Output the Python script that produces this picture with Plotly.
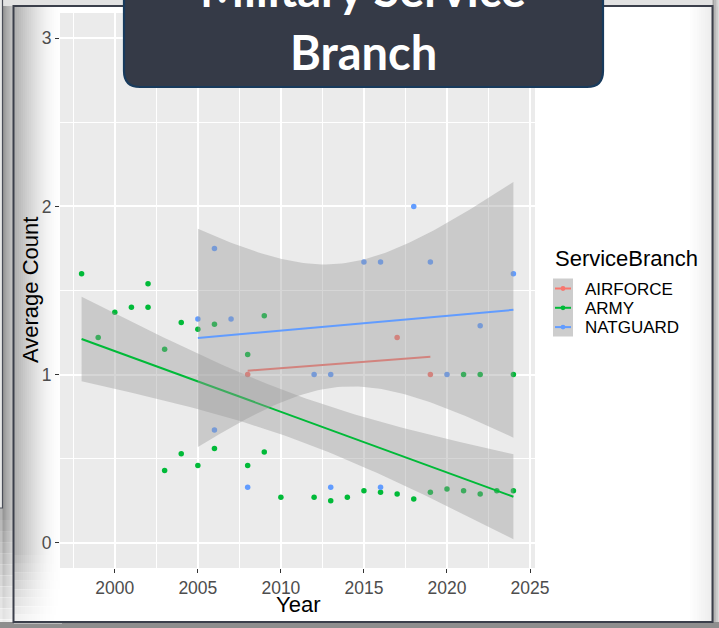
import math
import numpy as np
import plotly.graph_objects as go

W, H = 719, 628
FONT = "Liberation Sans, Arial, sans-serif"

# ---- data -------------------------------------------------------------
branches = ["AIRFORCE", "ARMY", "NATGUARD"]
branch_colors = ["#F8766D", "#00BA38", "#619CFF"]

airforce_year = [2008, 2017, 2019]
airforce_count = [1.0, 1.22, 1.0]

army_year = [1998, 1999, 2000, 2001, 2002, 2002, 2003, 2003, 2004, 2004,
             2005, 2005, 2006, 2006, 2008, 2008, 2009, 2009, 2010, 2012,
             2013, 2014, 2015, 2016, 2017, 2018, 2019, 2020, 2021, 2021,
             2022, 2022, 2023, 2024, 2024]
army_count = [1.60, 1.22, 1.37, 1.40, 1.40, 1.54, 1.15, 0.43, 1.31, 0.53,
              1.27, 0.46, 1.30, 0.56, 1.12, 0.46, 1.35, 0.54, 0.27, 0.27,
              0.25, 0.27, 0.31, 0.30, 0.29, 0.26, 0.30, 0.32, 0.31, 1.0,
              0.29, 1.0, 0.31, 0.31, 1.0]

natguard_year = [2005, 2006, 2006, 2007, 2008, 2009, 2012, 2013, 2013, 2015,
                 2016, 2016, 2018, 2019, 2020, 2022, 2024]
natguard_count = [1.33, 1.75, 0.67, 1.33, 0.33, 3.0, 1.0, 1.0, 0.33, 1.67,
                  1.67, 0.33, 2.0, 1.67, 1.0, 1.29, 1.6]

x_ticks = [2000, 2005, 2010, 2015, 2020, 2025]
y_ticks = [0, 1, 2, 3]
y_limits = (0.0, 3.0)

series = {
    "AIRFORCE": (airforce_year, airforce_count),
    "ARMY": (army_year, army_count),
    "NATGUARD": (natguard_year, natguard_count),
}


# ---- linear fit with 95% confidence band (like geom_smooth(method="lm")) --
def t_pdf(x, df):
    c = math.exp(math.lgamma((df + 1) / 2) - math.lgamma(df / 2)) / math.sqrt(df * math.pi)
    return c * np.power(1 + x * x / df, -(df + 1) / 2)


def t_cdf(x, df):
    g = np.linspace(0.0, x, 4001)
    return 0.5 + np.trapezoid(t_pdf(g, df), g)


def t_ppf(p, df):
    lo, hi = 0.0, 60.0
    for _ in range(70):
        mid = (lo + hi) / 2
        if t_cdf(mid, df) < p:
            lo = mid
        else:
            hi = mid
    return (lo + hi) / 2


def lm_band(xs, ys, n=80):
    x = np.asarray(xs, float)
    y = np.asarray(ys, float)
    m = len(x)
    xm, ym = x.mean(), y.mean()
    sxx = ((x - xm) ** 2).sum()
    b = ((x - xm) * (y - ym)).sum() / sxx
    a = ym - b * xm
    grid = np.linspace(x.min(), x.max(), n)
    fit = a + b * grid
    s = math.sqrt(((y - (a + b * x)) ** 2).sum() / (m - 2))
    se = s * np.sqrt(1 / m + (grid - xm) ** 2 / sxx)
    t = t_ppf(0.975, m - 2)
    return grid, fit, fit - t * se, fit + t * se


fig = go.Figure()

# points first, smoothers drawn on top of them
for name, col in zip(branches, branch_colors):
    xs, ys = series[name]
    fig.add_trace(go.Scatter(x=xs, y=ys, mode="markers", name=name,
                             marker=dict(size=5.5, color=col, line=dict(width=0)),
                             showlegend=False))

for name, col in zip(branches, branch_colors):
    xs, ys = series[name]
    grid, fit, lo, hi = lm_band(xs, ys)
    keep = (lo >= y_limits[0]) & (hi <= y_limits[1])
    if keep.any():
        gx = grid[keep]
        fig.add_trace(go.Scatter(
            x=np.concatenate([gx, gx[::-1]]),
            y=np.concatenate([hi[keep], lo[keep][::-1]]),
            mode="lines", fill="toself", fillcolor="rgba(153,153,153,0.4)",
            line=dict(width=0), hoverinfo="skip", showlegend=False))
    fig.add_trace(go.Scatter(x=grid, y=fit, mode="lines", name=name,
                             line=dict(color=col, width=2), showlegend=False))


# ---- page decoration (pixel helpers) ------------------------------------
def pxx(x):
    return x / W


def pxy(y):
    return 1 - y / H


def rect(x0, y0, x1, y1, fill, line=None, lw=0, layer="below", opacity=1):
    return dict(type="rect", xref="paper", yref="paper",
                x0=pxx(x0), x1=pxx(x1), y0=pxy(y1), y1=pxy(y0),
                fillcolor=fill, opacity=opacity,
                line=dict(width=lw, color=line or "rgba(0,0,0,0)"), layer=layer)


def grey(v):
    v = int(round(v))
    return f"rgb({v},{v},{v})"


PANEL = (60, 13, 535, 568)

shapes = []
shapes.append(rect(0, 0, W, 6.5, "#e2e2e2"))
# left outer shading
steps = 9
for i in range(steps):
    x0 = 2.5 + i * 11 / steps
    shapes.append(rect(x0, 6, x0 + 11 / steps + 0.3, H, grey(150 + 50 * i / (steps - 1))))
shapes.append(rect(-4, -4, 2.5, 508, "#e8e8e8", line="#4b4e58", lw=1.2))
for i in range(10):
    y0 = 520 + i * 11
    shapes.append(rect(-1, y0, 13.5, y0 + 11.5, "white", opacity=0.08 * (i + 1)))
shapes.append(rect(0, 622, W, H, "#8e8e8e"))
for i in range(4):
    x0 = 712.5 + i * 1.7
    shapes.append(rect(x0, 0, x0 + 1.9, 622, grey(165 + 18 * i)))
# main white frame
shapes.append(rect(13.5, 6, 712.5, 622, "white"))
# soft shadow along the inner left edge
n_sh = 23
for i in range(n_sh):
    x0 = 14 + i * 2
    a = 0.30 * (1 - i / n_sh) ** 1.6
    shapes.append(rect(x0, 7, x0 + 2.1, 621, "black", opacity=a))
for i in range(8):
    y0 = 555 + i * 8.5
    shapes.append(rect(14, y0, 62, y0 + 9, "white", opacity=0.1 * (i + 1)))
for i in range(10):
    x0 = 690 + i * 2.2
    shapes.append(rect(x0, 7, x0 + 2.3, 621, "black", opacity=0.007 * (i + 1)))
shapes.append(rect(13.5, 6, 712.5, 622, "rgba(0,0,0,0)", line="#3b3f4b", lw=2))
# grey plotting panel (gridlines are drawn over it)
shapes.append(rect(*PANEL, "#EBEBEB"))

# title banner with rounded bottom corners
bx0, bx1, by0, by1, r = 124, 603, -30, 87, 16
path = (f"M {pxx(bx0)},{pxy(by0)} L {pxx(bx1)},{pxy(by0)} "
        f"L {pxx(bx1)},{pxy(by1 - r)} Q {pxx(bx1)},{pxy(by1)} {pxx(bx1 - r)},{pxy(by1)} "
        f"L {pxx(bx0 + r)},{pxy(by1)} Q {pxx(bx0)},{pxy(by1)} {pxx(bx0)},{pxy(by1 - r)} Z")
shapes.append(dict(type="path", xref="paper", yref="paper", path=path,
                   fillcolor="#353a47", line=dict(color="#183a5c", width=2.2),
                   layer="above"))

# legend keys
shapes.append(rect(553, 278.5, 573, 336.5, "#cdcdcd", layer="above"))
annotations = []
for i, (name, col) in enumerate(zip(branches, branch_colors)):
    yc = 288.5 + 19.3 * i
    shapes.append(dict(type="line", xref="paper", yref="paper",
                       x0=pxx(555), x1=pxx(571), y0=pxy(yc), y1=pxy(yc),
                       line=dict(color=col, width=2), layer="above"))
    shapes.append(dict(type="circle", xref="paper", yref="paper",
                       x0=pxx(560.6), x1=pxx(565.4), y0=pxy(yc + 2.4), y1=pxy(yc - 2.4),
                       fillcolor=col, line=dict(width=0), layer="above"))
    annotations.append(dict(text=name, x=pxx(583), y=pxy(yc + 0.6), xref="paper", yref="paper",
                            xanchor="left", yanchor="middle", showarrow=False,
                            font=dict(family=FONT, size=17, color="black")))

annotations.append(dict(text="ServiceBranch", x=pxx(552.5), y=pxy(258), xref="paper", yref="paper",
                        xanchor="left", yanchor="middle", showarrow=False,
                        font=dict(family=FONT, size=22, color="black")))
annotations.append(dict(text="Year", x=pxx(297.5), y=pxy(604.5), xref="paper", yref="paper",
                        xanchor="center", yanchor="middle", showarrow=False,
                        font=dict(family=FONT, size=22, color="black")))
annotations.append(dict(text="Average Count", x=pxx(30.5), y=pxy(290.5), xref="paper", yref="paper",
                        xanchor="center", yanchor="middle", textangle=-90, showarrow=False,
                        font=dict(family=FONT, size=22, color="black")))
annotations.append(dict(text="Military Service", x=pxx(363), y=pxy(-10.5), xref="paper", yref="paper",
                        xanchor="center", yanchor="middle", showarrow=False,
                        font=dict(family="Lato, Open Sans, sans-serif", size=47, color="white", weight=700)))
annotations.append(dict(text="Branch", x=pxx(363), y=pxy(52), xref="paper", yref="paper",
                        xanchor="center", yanchor="middle", showarrow=False,
                        font=dict(family="Lato, Open Sans, sans-serif", size=47, color="white", weight=700)))

axis_common = dict(ticks="outside", ticklen=4, tickwidth=1.1, tickcolor="#333333",
                   gridcolor="white", gridwidth=1.5, zeroline=False, showline=False,
                   tickfont=dict(family=FONT, size=17.5, color="#4D4D4D"), automargin=False)

fig.update_layout(
    width=W, height=H,
    margin=dict(l=0, r=0, t=0, b=0),
    paper_bgcolor="#b4b4b4",
    plot_bgcolor="#EBEBEB",
    showlegend=False,
    xaxis=dict(domain=[PANEL[0] / W, PANEL[2] / W], range=[1996.7, 2025.3],
               tickmode="array", tickvals=x_ticks,
               minor=dict(tickmode="array", tickvals=[1997.5, 2002.5, 2007.5, 2012.5, 2017.5, 2022.5],
                          showgrid=True, gridcolor="white", gridwidth=0.7),
               **axis_common),
    yaxis=dict(domain=[1 - PANEL[3] / H, 1 - PANEL[1] / H], range=[-0.15, 3.15],
               tickmode="array", tickvals=y_ticks,
               minor=dict(tickmode="array", tickvals=[0.5, 1.5, 2.5],
                          showgrid=True, gridcolor="white", gridwidth=0.7),
               **axis_common),
    shapes=shapes,
    annotations=annotations,
)

fig.write_html("out.html")
